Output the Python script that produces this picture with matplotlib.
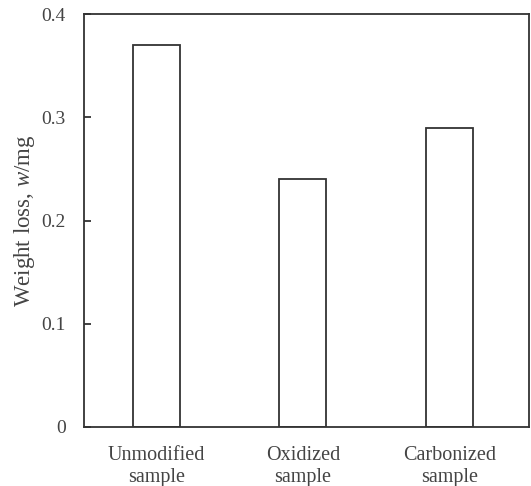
import matplotlib
matplotlib.use("Agg")
import matplotlib.pyplot as plt

categories = ["Unmodified\nsample", "Oxidized\nsample", "Carbonized\nsample"]
values = [0.37, 0.24, 0.29]
yticks = [0, 0.1, 0.2, 0.3, 0.4]
yticklabels = ["0", "0.1", "0.2", "0.3", "0.4"]

plt.rcParams['font.family'] = ['Liberation Serif', 'DejaVu Serif']
plt.rcParams['mathtext.fontset'] = 'custom'
plt.rcParams['mathtext.rm'] = 'Liberation Serif'
plt.rcParams['mathtext.it'] = 'Liberation Serif:italic'
col = "#333333"
tcol = "#444444"

fig = plt.figure(figsize=(5.31, 4.86), dpi=100)
ax = fig.add_axes([0.158, 0.1214, 0.838, 0.8496])
x = list(range(len(categories)))
ax.bar(x, values, width=0.32, facecolor="white", edgecolor=col, linewidth=1.3)
ax.set_xlim(-0.495, 2.543)
ax.set_ylim(0, 0.4)
ax.set_yticks(yticks)
ax.set_yticklabels(yticklabels)
ax.set_xticks(x)
ax.set_xticklabels(categories, linespacing=1.15)
ax.tick_params(axis='y', direction='in', length=5, width=1.3, color=col, labelsize=14, labelcolor=tcol, pad=13)
ax.tick_params(axis='x', length=0, labelsize=14.5, labelcolor=tcol, pad=14)
for s in ax.spines.values():
    s.set_color(col)
    s.set_linewidth(1.3)
ax.set_ylabel("Weight loss, $\\mathit{w}$/mg", fontsize=16.5, color=tcol, labelpad=3)
fig.savefig("out.png", dpi=100)
